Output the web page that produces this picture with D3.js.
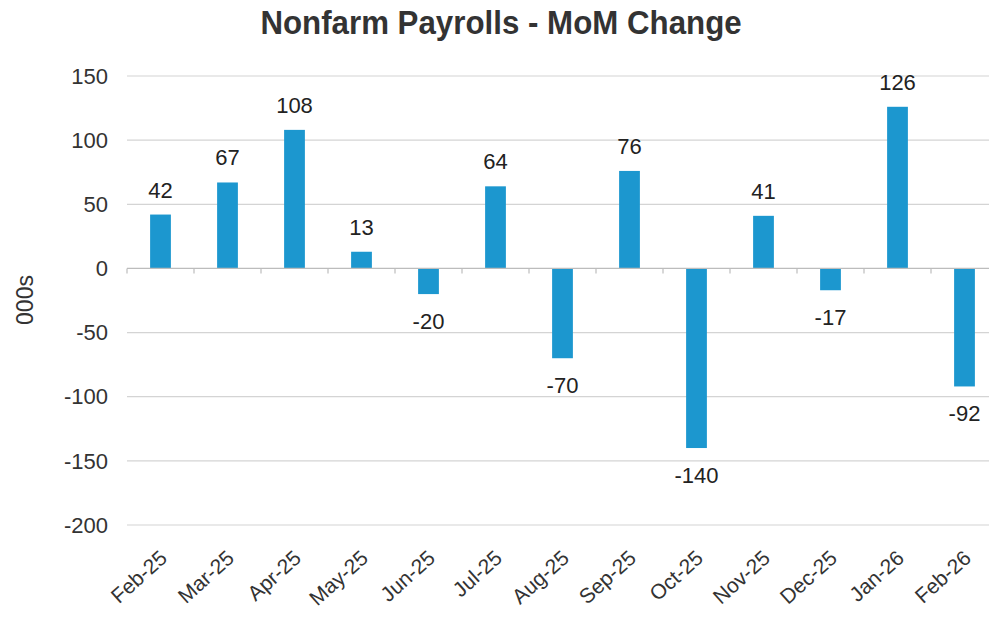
<!DOCTYPE html>
<html lang="en">
<head>
    <meta charset="UTF-8">
    <title>Nonfarm Payrolls - MoM Change</title>
    <script src="https://d3js.org/d3.v7.min.js"></script>
    <style>
        body {
            margin: 0;
            padding: 0;
            background-color: white;
            overflow: hidden;
        }
        svg {
            display: block;
            font-family: "Liberation Sans", Arial, sans-serif;
        }
    </style>
</head>
<body>
    <div id="chart"></div>
    <script>
        // chart data
        const months = ["Feb-25", "Mar-25", "Apr-25", "May-25", "Jun-25", "Jul-25", "Aug-25",
                        "Sep-25", "Oct-25", "Nov-25", "Dec-25", "Jan-26", "Feb-26"];
        const changes = [42, 67, 108, 13, -20, 64, -70, 76, -140, 41, -17, 126, -92];
        const yTicks = [150, 100, 50, 0, -50, -100, -150, -200];

        const width = 989;
        const height = 617;
        const margin = {top: 76, right: -9, bottom: 92, left: 127};

        const svg = d3.select("#chart")
            .append("svg")
            .attr("width", width)
            .attr("height", height);

        const x = d3.scaleBand()
            .domain(months)
            .range([margin.left, width - margin.right])
            .paddingInner(0.69)
            .paddingOuter(0.345);

        const y = d3.scaleLinear()
            .domain([-200, 150])
            .range([height - margin.bottom, margin.top]);

        // title (condensed look by squeezing horizontally)
        svg.append("text")
            .attr("transform", "translate(501,34) scale(0.92,1)")
            .attr("text-anchor", "middle")
            .style("font-weight", "bold")
            .style("font-size", "34px")
            .attr("fill", "#333")
            .text("Nonfarm Payrolls - MoM Change");

        // gridlines
        svg.append("g")
            .selectAll("line")
            .data(yTicks.filter(d => d !== 0))
            .join("line")
            .attr("x1", margin.left)
            .attr("x2", width)
            .attr("y1", d => y(d))
            .attr("y2", d => y(d))
            .attr("stroke", "#d4d4d4")
            .attr("stroke-width", 1.2);

        // y tick labels
        svg.append("g")
            .selectAll("text")
            .data(yTicks)
            .join("text")
            .attr("x", 108)
            .attr("y", d => y(d))
            .attr("dy", "0.35em")
            .attr("text-anchor", "end")
            .style("font-size", "22px")
            .attr("fill", "#333")
            .text(d => d);

        // y axis title
        svg.append("text")
            .attr("transform", `translate(33,300) rotate(-90)`)
            .attr("text-anchor", "middle")
            .style("font-size", "23px")
            .attr("fill", "#333")
            .text("000s");

        // bars
        svg.append("g")
            .selectAll("rect")
            .data(changes)
            .join("rect")
            .attr("x", (d, i) => x(months[i]))
            .attr("width", x.bandwidth())
            .attr("y", d => y(Math.max(0, d)))
            .attr("height", d => Math.abs(y(d) - y(0)))
            .attr("fill", "#1c97cf");

        // zero axis with tick marks at band edges
        const step = x.step();
        const zero = svg.append("g").attr("stroke", "#bcbcbc").attr("stroke-width", 1.2);
        zero.append("line")
            .attr("x1", margin.left)
            .attr("x2", width)
            .attr("y1", y(0))
            .attr("y2", y(0));
        zero.selectAll(".tk")
            .data(months)
            .join("line")
            .attr("class", "tk")
            .attr("x1", (d, i) => margin.left + i * step)
            .attr("x2", (d, i) => margin.left + i * step)
            .attr("y1", y(0))
            .attr("y2", y(0) + 5);

        // value labels
        svg.append("g")
            .selectAll("text")
            .data(changes)
            .join("text")
            .attr("x", (d, i) => x(months[i]) + x.bandwidth() / 2)
            .attr("y", d => d >= 0 ? y(d) - 17 : y(d) + 18)
            .attr("dy", d => d >= 0 ? "0" : "0.75em")
            .attr("text-anchor", "middle")
            .style("font-size", "22px")
            .attr("fill", "#222")
            .text(d => d);

        // x labels, rotated
        svg.append("g")
            .selectAll("text")
            .data(months)
            .join("text")
            .attr("transform", d => `translate(${x(d) + x.bandwidth() / 2 - 2},${y(-200) + 24}) rotate(-42)`)
            .attr("text-anchor", "end")
            .attr("dy", "0.7em")
            .style("font-size", "21px")
            .attr("fill", "#333")
            .text(d => d);
    </script>
</body>
</html>
